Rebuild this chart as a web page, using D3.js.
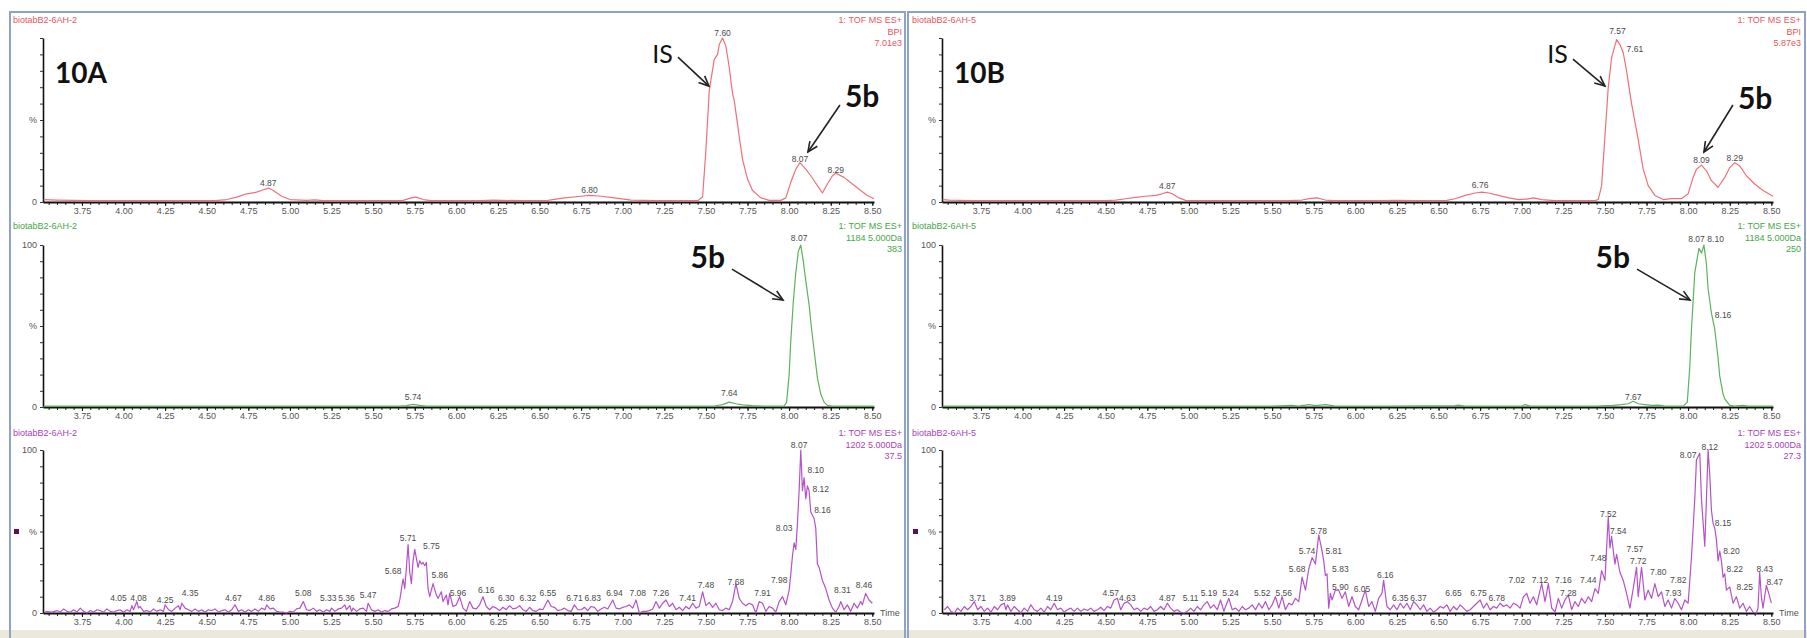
<!DOCTYPE html>
<html><head><meta charset="utf-8">
<script src="https://cdn.jsdelivr.net/npm/d3@7"></script>
<style>
html,body{margin:0;padding:0;background:#fff;}
svg{display:block;}
</style></head><body>
<svg id="chart" width="1807" height="638"></svg>
<script>
// ---------- DATA ----------
const tickValues = [3.75,4.00,4.25,4.50,4.75,5.00,5.25,5.50,5.75,6.00,6.25,6.50,6.75,7.00,7.25,7.50,7.75,8.00,8.25,8.50];
const tickLabels = ["3.75","4.00","4.25","4.50","4.75","5.00","5.25","5.50","5.75","6.00","6.25","6.50","6.75","7.00","7.25","7.50","7.75","8.00","8.25","8.50"];
const sampleNames = ["biotabB2-6AH-2","biotabB2-6AH-5"];
const panelTitles = ["10A","10B"];
const headerLinesA = [["1: TOF MS ES+","BPI","7.01e3"],["1: TOF MS ES+","1184 5.000Da","383"],["1: TOF MS ES+","1202 5.000Da","37.5"]];
const headerLinesB = [["1: TOF MS ES+","BPI","5.87e3"],["1: TOF MS ES+","1184 5.000Da","250"],["1: TOF MS ES+","1202 5.000Da","27.3"]];

// [time (min), relative intensity %]
const redA = [[3.52,1.5],[3.6,1.2],[3.7,1],[3.8,0.8],[4.0,0.8],[4.2,0.8],[4.4,0.8],[4.55,0.8],[4.62,1.5],[4.68,3],[4.74,5],[4.80,6],[4.84,7.5],[4.87,8.5],[4.90,7],[4.95,3.5],[5.0,1.5],[5.1,1],[5.15,1.3],[5.2,0.8],[5.5,0.8],[5.68,1],[5.73,2.5],[5.76,3],[5.8,1.5],[5.85,0.8],[6.15,0.8],[6.22,1.2],[6.28,1],[6.4,0.8],[6.55,1],[6.65,2.5],[6.75,3.5],[6.80,4],[6.87,3.5],[6.95,2.5],[7.05,1.2],[7.2,0.8],[7.45,0.8],[7.48,3],[7.50,32],[7.52,68],[7.55,87],[7.57,90],[7.58,96],[7.60,100],[7.62,95],[7.64,82],[7.66,66],[7.67,62],[7.70,40],[7.72,26],[7.75,14],[7.78,7],[7.83,2.5],[7.88,1],[7.95,1],[7.98,2.5],[8.01,12],[8.04,20],[8.065,24],[8.10,20],[8.13,16],[8.17,10],[8.20,5.5],[8.23,11],[8.26,16],[8.28,17.5],[8.33,15],[8.38,11],[8.43,7],[8.47,4],[8.51,2]];
const greenA = [[3.52,0.5],[3.9,0.6],[4.3,0.5],[4.8,0.6],[5.3,0.5],[5.66,0.6],[5.70,0.9],[5.74,1.6],[5.78,1],[5.82,0.5],[6.3,0.6],[6.9,0.5],[7.55,0.6],[7.60,1.5],[7.64,3],[7.68,2],[7.72,1.3],[7.78,0.8],[7.85,0.5],[7.97,0.5],[7.985,3],[8.00,20],[8.01,41],[8.025,65],[8.04,83],[8.055,96],[8.07,100],[8.085,90],[8.10,78],[8.12,63],[8.135,48],[8.15,35],[8.17,18],[8.19,8],[8.21,3],[8.23,1],[8.26,0.5],[8.51,0.5]];
const purpleA = [[3.53,1],[3.57,0.5],[3.60,1.5],[3.62,0.5],[3.64,2.5],[3.66,1],[3.68,0.5],[3.70,2],[3.72,0.5],[3.74,3],[3.76,1],[3.78,0],[3.80,1.5],[3.82,0.5],[3.84,2],[3.86,1.5],[3.88,0.5],[3.90,2.5],[3.92,1],[3.94,0.5],[3.96,1.5],[3.98,2],[4.00,0.5],[4.02,2],[4.04,1],[4.05,4.5],[4.06,2],[4.08,7],[4.09,3],[4.10,4],[4.12,1],[4.14,1.5],[4.16,0.5],[4.18,2.5],[4.20,1],[4.22,2],[4.24,1],[4.25,5],[4.27,2],[4.29,1],[4.31,3],[4.33,4.5],[4.34,2],[4.35,6],[4.37,3],[4.39,2],[4.41,1],[4.43,2.5],[4.45,1],[4.47,2],[4.49,0.5],[4.51,2],[4.53,1.5],[4.55,2.5],[4.57,0.5],[4.59,1.5],[4.61,2],[4.63,0.5],[4.65,2],[4.67,5],[4.69,1],[4.71,2],[4.73,0.5],[4.75,2],[4.77,1],[4.79,2.5],[4.81,1],[4.83,3],[4.85,2],[4.86,5],[4.88,2.5],[4.90,3],[4.92,1],[4.94,0.5],[4.96,0.5],[4.98,0],[5.00,1],[5.02,0.5],[5.04,2.5],[5.06,3],[5.08,7],[5.10,2],[5.12,1.5],[5.14,3],[5.16,1],[5.18,2],[5.20,0.5],[5.22,2],[5.24,1],[5.25,3],[5.27,1],[5.29,2.5],[5.31,3],[5.33,5],[5.34,2],[5.36,4.5],[5.37,1],[5.38,3],[5.40,1],[5.42,2.5],[5.44,3],[5.46,1],[5.47,6],[5.49,2],[5.51,1],[5.53,2],[5.55,0.5],[5.57,1.5],[5.59,1],[5.61,2.5],[5.63,3],[5.65,4],[5.66,8],[5.68,21],[5.69,15],[5.70,28],[5.71,42],[5.72,25],[5.73,18],[5.74,32],[5.75,39],[5.77,28],[5.78,32],[5.79,30],[5.80,31],[5.81,29],[5.82,31],[5.83,15],[5.84,10],[5.86,18],[5.88,11],[5.89,9],[5.91,13],[5.92,7],[5.94,11],[5.95,5],[5.96,12],[5.98,4],[6.00,5],[6.02,10],[6.04,3],[6.06,1],[6.08,7],[6.10,3],[6.12,2.5],[6.14,5],[6.16,10],[6.18,4],[6.20,2],[6.22,4],[6.24,3],[6.26,1.5],[6.28,3.5],[6.30,2],[6.32,4.5],[6.34,2.5],[6.36,3],[6.38,4.5],[6.40,2],[6.42,1],[6.44,3.5],[6.46,1.5],[6.48,1],[6.50,2.5],[6.52,2],[6.55,8],[6.57,4],[6.59,3.5],[6.61,1.5],[6.63,2],[6.65,3],[6.67,1.5],[6.69,1],[6.71,5],[6.73,2],[6.75,2],[6.77,3.5],[6.79,1.5],[6.81,4],[6.83,3.5],[6.85,1],[6.87,2.5],[6.89,3.5],[6.91,2.5],[6.94,8],[6.96,3],[6.98,2.5],[7.00,3.5],[7.02,4],[7.04,5],[7.06,3],[7.08,8],[7.10,0],[7.12,1],[7.14,1],[7.16,1.5],[7.18,2.5],[7.20,7],[7.22,3],[7.24,6],[7.26,8],[7.28,4],[7.30,6],[7.32,2],[7.34,3.5],[7.36,1.5],[7.38,4],[7.40,2.5],[7.42,6],[7.44,3],[7.46,4],[7.48,13],[7.50,4.5],[7.52,6.5],[7.54,3.5],[7.56,6],[7.58,2],[7.60,1.5],[7.62,3],[7.64,2],[7.66,7],[7.68,18],[7.70,9],[7.72,6],[7.74,4.5],[7.76,6],[7.78,5],[7.80,0],[7.82,7],[7.84,6],[7.86,1],[7.88,4],[7.90,3],[7.92,0.5],[7.94,7],[7.96,10],[7.98,5],[8.00,14],[8.01,24],[8.02,35],[8.03,43],[8.04,39],[8.05,55],[8.06,75],[8.07,100],[8.08,75],[8.09,83],[8.10,70],[8.11,78],[8.12,75],[8.13,62],[8.14,60],[8.15,58],[8.16,52],[8.17,30],[8.18,28],[8.20,20],[8.22,15],[8.24,8],[8.26,3],[8.28,0.5],[8.30,4],[8.31,7],[8.33,2],[8.35,5],[8.37,1],[8.39,6],[8.41,3],[8.43,7],[8.44,5],[8.46,12],[8.48,8],[8.50,6]];

const redB = [[3.52,1.5],[3.56,1.2],[3.62,1],[3.7,0.8],[4.0,0.8],[4.3,0.8],[4.50,0.8],[4.56,1.2],[4.62,2],[4.68,2.8],[4.74,3.5],[4.80,4],[4.84,5],[4.87,6],[4.90,5],[4.94,2.5],[4.98,1],[5.05,0.8],[5.6,0.8],[5.68,1.2],[5.73,2.2],[5.77,2.5],[5.82,1.2],[5.88,0.8],[6.15,0.8],[6.25,1],[6.35,0.8],[6.55,1],[6.60,2],[6.66,4],[6.72,5.5],[6.76,6],[6.80,5.5],[6.86,4],[6.92,2.5],[6.98,1.5],[7.03,1.8],[7.07,2.5],[7.12,1.5],[7.2,0.8],[7.44,0.8],[7.46,1.5],[7.48,10],[7.50,40],[7.52,70],[7.54,88],[7.57,99],[7.59,96],[7.61,91],[7.63,80],[7.66,60],[7.70,38],[7.73,20],[7.76,10],[7.80,4],[7.85,1.5],[7.90,2],[7.96,2],[8.00,5],[8.03,15],[8.05,20],[8.08,22.5],[8.11,19],[8.14,13],[8.18,9],[8.22,15],[8.25,21],[8.28,24],[8.31,22],[8.35,16],[8.40,11],[8.45,7],[8.51,3.5]];
const greenB = [[3.52,0.5],[3.8,0.6],[4.2,0.5],[4.6,0.6],[5.0,0.5],[5.5,0.6],[5.62,1],[5.66,0.5],[5.72,1.5],[5.76,0.8],[5.82,1.5],[5.88,0.5],[6.2,0.6],[6.6,0.8],[6.62,1.2],[6.66,0.5],[7.0,0.5],[7.02,1.5],[7.05,0.5],[7.45,0.5],[7.55,1],[7.60,1.5],[7.64,2],[7.67,3.5],[7.70,2],[7.74,1.5],[7.78,1],[7.82,1.2],[7.86,0.5],[7.97,0.5],[7.995,3],[8.01,25],[8.02,48],[8.04,83],[8.065,98],[8.08,95],[8.095,100],[8.11,88],[8.12,73],[8.14,58],[8.15,53],[8.16,48],[8.18,30],[8.19,19],[8.21,8],[8.22,5],[8.25,1],[8.28,0.5],[8.33,1],[8.36,0.5],[8.51,0.5]];
const purpleB = [[3.53,2],[3.55,4],[3.57,1],[3.59,0],[3.61,3],[3.63,1],[3.65,4],[3.67,2],[3.69,4],[3.71,7],[3.73,2],[3.75,4],[3.77,1],[3.79,3],[3.81,0.5],[3.83,4],[3.85,2],[3.87,5],[3.89,6],[3.90,2],[3.91,5],[3.93,1],[3.95,4],[3.97,2],[3.99,0],[4.01,3],[4.03,1],[4.05,5],[4.07,2],[4.09,1],[4.11,3],[4.13,0.5],[4.15,4],[4.17,2],[4.19,6],[4.21,2],[4.23,3],[4.25,0.5],[4.27,2],[4.29,3],[4.31,1],[4.33,3],[4.35,1],[4.37,2.5],[4.39,1.5],[4.41,3],[4.43,1],[4.45,2],[4.47,3.5],[4.49,1.5],[4.51,4],[4.53,3],[4.55,8],[4.57,9],[4.59,2],[4.61,6],[4.63,7],[4.65,5],[4.67,2],[4.69,3],[4.71,1],[4.73,3],[4.75,2],[4.77,4],[4.79,1],[4.81,2],[4.83,4],[4.85,2],[4.87,6],[4.89,3],[4.91,1],[4.93,2],[4.95,0.5],[4.97,0],[4.99,1],[5.01,3],[5.03,1],[5.05,4],[5.07,2],[5.09,5],[5.11,7],[5.13,3],[5.15,5],[5.17,2],[5.19,8],[5.21,1],[5.22,4],[5.24,9],[5.26,2],[5.28,3],[5.30,1],[5.32,4],[5.34,2],[5.36,3],[5.38,5],[5.40,2],[5.42,6],[5.44,3],[5.46,7],[5.48,2],[5.50,5],[5.52,10],[5.54,3],[5.56,10],[5.58,2],[5.60,6],[5.62,5],[5.64,9],[5.66,7],[5.68,22],[5.70,14],[5.72,27],[5.74,34],[5.76,30],[5.78,48],[5.80,38],[5.81,32],[5.82,23],[5.83,24],[5.84,3],[5.85,12],[5.86,8],[5.88,14],[5.90,14],[5.92,9],[5.94,13],[5.96,4],[5.98,10],[6.00,4],[6.02,2],[6.04,8],[6.06,14],[6.08,4],[6.10,7],[6.12,1],[6.14,9],[6.16,12],[6.17,20],[6.19,4],[6.21,2],[6.23,5],[6.25,2],[6.27,6],[6.29,3],[6.31,6],[6.33,2],[6.35,7],[6.37,5],[6.39,2],[6.41,5],[6.43,1],[6.45,3],[6.47,0.5],[6.49,2],[6.51,4],[6.53,3],[6.55,5],[6.57,1],[6.59,4],[6.61,2],[6.63,5],[6.65,3],[6.67,1],[6.69,2],[6.71,4],[6.73,6],[6.75,8],[6.77,3],[6.79,6],[6.81,2],[6.83,4],[6.85,3],[6.87,6],[6.89,4],[6.91,5],[6.93,3],[6.95,6],[6.97,5],[6.99,3],[7.01,10],[7.03,12],[7.05,6],[7.07,10],[7.09,5],[7.11,14],[7.12,18],[7.14,7],[7.16,18],[7.18,3],[7.20,0.5],[7.22,9],[7.24,3],[7.26,8],[7.28,11],[7.30,2],[7.32,7],[7.34,4],[7.36,9],[7.38,6],[7.40,10],[7.42,7],[7.44,15],[7.46,12],[7.48,26],[7.50,20],[7.52,59],[7.53,40],[7.54,47],[7.56,30],[7.57,36],[7.59,25],[7.61,20],[7.63,12],[7.65,3],[7.67,15],[7.69,28],[7.70,10],[7.72,28],[7.74,8],[7.76,14],[7.78,9],[7.80,18],[7.82,10],[7.84,13],[7.86,4],[7.88,8],[7.90,3],[7.92,9],[7.94,6],[7.96,2],[7.98,8],[8.00,6],[8.01,20],[8.02,34],[8.04,70],[8.05,94],[8.07,98],[8.08,70],[8.10,41],[8.11,70],[8.12,100],[8.13,85],[8.14,63],[8.15,55],[8.16,52],[8.17,45],[8.18,32],[8.19,38],[8.20,32],[8.21,22],[8.22,24],[8.23,14],[8.25,16],[8.27,6],[8.29,10],[8.31,3],[8.33,6],[8.35,1],[8.37,4],[8.39,0.5],[8.41,0],[8.42,3],[8.43,25],[8.44,10],[8.45,3],[8.47,17],[8.49,10],[8.50,6]];

// peak labels: [text, time, intensity of label centre]
const redALabels = [["4.87",4.87,11.5],["6.80",6.80,7.5],["7.60",7.60,103],["8.07",8.065,26],["8.29",8.28,19.5]];
const greenALabels = [["5.74",5.74,6],["7.64",7.64,8.6],["8.07",8.06,104]];
const purpleALabels = [["4.05",3.97,9],["4.08",4.09,9],["4.25",4.25,8],["4.35",4.40,12],["4.67",4.66,9],["4.86",4.86,9],["5.08",5.08,12],["5.33",5.23,9],["5.36",5.34,9],["5.47",5.47,11],["5.68",5.62,26],["5.71",5.71,46],["5.75",5.85,41],["5.86",5.90,23],["5.96",6.01,12],["6.16",6.18,14],["6.30",6.30,9],["6.32",6.43,9],["6.55",6.55,12],["6.71",6.71,9],["6.83",6.82,9],["6.94",6.95,12],["7.08",7.09,12],["7.26",7.23,12],["7.41",7.39,9],["7.48",7.50,17],["7.68",7.68,19],["7.91",7.84,12],["7.98",7.94,20],["8.03",7.97,52],["8.07",8.06,103],["8.10",8.16,88],["8.12",8.19,76],["8.16",8.20,63],["8.31",8.32,14],["8.46",8.45,17]];
const redBLabels = [["4.87",4.87,10],["6.76",6.75,10.5],["7.57",7.575,104],["7.61",7.68,93],["8.09",8.08,25.5],["8.29",8.28,27]];
const greenBLabels = [["7.67",7.67,6],["8.07",8.05,103.5],["8.10",8.165,103.5],["8.16",8.21,57]];
const purpleBLabels = [["3.71",3.73,9],["3.89",3.91,9],["4.19",4.19,9],["4.57",4.53,12.5],["4.63",4.63,9],["4.87",4.87,9],["5.11",5.01,9],["5.19",5.12,12],["5.24",5.25,12],["5.52",5.44,12],["5.56",5.57,12],["5.68",5.65,27],["5.74",5.71,38],["5.78",5.78,50],["5.81",5.87,38],["5.83",5.91,27],["5.90",5.91,16],["6.05",6.04,15],["6.16",6.18,23],["6.35",6.27,9],["6.37",6.38,9],["6.65",6.59,12],["6.75",6.74,12],["6.78",6.85,9],["7.02",6.97,20],["7.12",7.11,20],["7.16",7.25,20],["7.28",7.28,12],["7.44",7.40,20],["7.48",7.46,34],["7.52",7.52,61],["7.54",7.58,50],["7.57",7.68,39],["7.72",7.70,32],["7.80",7.82,25],["7.82",7.94,20],["7.93",7.91,12],["8.07",8.00,97],["8.12",8.13,102],["8.15",8.21,55],["8.20",8.26,38],["8.22",8.28,27],["8.25",8.34,16],["8.43",8.46,27],["8.47",8.52,19]];

// ---------- LAYOUT ----------
const svg = d3.select("#chart");
const FONT = "'Liberation Sans', Arial, sans-serif";
const BIG = "Lato, 'Open Sans', sans-serif";
const colors = {red:"#f0707a", green:"#5cb25c", purple:"#b452c8"};
const hdrColors = {red:"#ea5560", green:"#46a646", purple:"#a544b8"};
const rows = [
  {top:38, zero:202, show100:false, hdrY:23},
  {top:245, zero:407, show100:true, hdrY:229},
  {top:450, zero:613, show100:true, hdrY:436}
];
const sides = [
  {ox:0, series:[redA,greenA,purpleA], labels:[redALabels,greenALabels,purpleALabels], hdr:headerLinesA, name:sampleNames[0], title:panelTitles[0]},
  {ox:899, series:[redB,greenB,purpleB], labels:[redBLabels,greenBLabels,purpleBLabels], hdr:headerLinesB, name:sampleNames[1], title:panelTitles[1]}
];
const colorKeys = ["red","green","purple"];

// background band and frames
svg.append("rect").attr("x",0).attr("y",630).attr("width",1807).attr("height",8).attr("fill","#ece9dc");
const frameC = "#8fa3c6";
[[10,905],[908,1805]].forEach(([a,b])=>{
  svg.append("line").attr("x1",a).attr("x2",b).attr("y1",12).attr("y2",12).attr("stroke",frameC).attr("stroke-width",2);
  svg.append("line").attr("x1",a).attr("x2",a).attr("y1",11).attr("y2",638).attr("stroke",frameC).attr("stroke-width",2);
  svg.append("line").attr("x1",b).attr("x2",b).attr("y1",11).attr("y2",638).attr("stroke",frameC).attr("stroke-width",2);
});

const scales = [];
sides.forEach((s, si) => {
  const x = d3.scaleLinear().domain([3.516, 8.51]).range([43 + s.ox, 874 + s.ox]);
  const sideScales = [];
  rows.forEach((r, ri) => {
    const y = d3.scaleLinear().domain([0,100]).range([r.zero, r.top]);
    sideScales.push(y);
    const g = svg.append("g");
    const key = colorKeys[ri];
    // header texts
    g.append("text").attr("x", 13 + s.ox).attr("y", r.hdrY).text(s.name)
      .attr("font-family",FONT).attr("font-size",9).attr("fill",hdrColors[key]);
    s.hdr[ri].forEach((t, li) => {
      g.append("text").attr("x", 902 + s.ox).attr("y", r.hdrY + li*11.5).text(t)
        .attr("text-anchor","end").attr("font-family",FONT).attr("font-size",9).attr("fill",hdrColors[key]);
    });
    // minor x ticks
    const minor = d3.range(3.55, 8.52, 0.05).filter(v => v <= 8.51);
    const gm = g.append("g").attr("transform",`translate(0,${r.zero})`)
      .call(d3.axisBottom(x).tickValues(minor).tickFormat("").tickSize(3).tickSizeOuter(0));
    gm.select(".domain").remove();
    gm.selectAll("line").attr("stroke","#222");
    // major x axis
    const gx = g.append("g").attr("transform",`translate(0,${r.zero})`)
      .call(d3.axisBottom(x).tickValues(tickValues).tickFormat((d,i)=>tickLabels[i]).tickSize(4).tickSizeOuter(0));
    gx.select(".domain").attr("stroke","#111").attr("stroke-width",1.8);
    gx.selectAll("line").attr("stroke","#111");
    gx.selectAll("text").attr("font-family",FONT).attr("font-size",9).attr("fill","#555").attr("dy","0.55em");
    // y axis
    const gy = g.append("g").attr("transform",`translate(${43 + s.ox},0)`)
      .call(d3.axisLeft(y).tickValues(d3.range(0,101,10)).tickSize(3).tickSizeOuter(0)
        .tickFormat(d => d===0 ? "0" : (d===100 && r.show100) ? "100" : d===50 ? "%" : ""));
    gy.select(".domain").attr("stroke","#111").attr("stroke-width",1.6);
    gy.selectAll("line").attr("stroke","#333");
    gy.selectAll("text").attr("font-family",FONT).attr("font-size",9).attr("fill","#555");
    // trace
    const line = d3.line().x(d => x(d[0])).y(d => y(d[1]));
    g.append("path").datum(s.series[ri]).attr("d", line)
      .attr("fill","none").attr("stroke",colors[key]).attr("stroke-width",1.2).attr("stroke-linejoin","round");
    // peak labels
    g.selectAll("text.pk").data(s.labels[ri]).enter().append("text").attr("class","pk")
      .attr("x", d => x(d[1])).attr("y", d => y(d[2])).attr("dy","0.35em")
      .attr("text-anchor","middle").attr("font-family",FONT).attr("font-size",8.5).attr("fill","#4a4a4a")
      .text(d => d[0]);
    if (ri === 2) {
      g.append("text").attr("x", 880 + s.ox).attr("y", r.zero).attr("dy","0.35em").text("Time")
        .attr("font-family",FONT).attr("font-size",9).attr("fill","#555");
      g.append("rect").attr("x", 14 + s.ox).attr("y", 529).attr("width",5).attr("height",5).attr("fill","#5b105b");
    }
  });
  scales.push({x, ys: sideScales});
  // panel title
  svg.append("text").attr("x", 55 + s.ox).attr("y", 83).text(s.title)
    .attr("font-family",BIG).attr("font-weight","bold").attr("font-size",28).attr("fill","#111");
});

// annotations
function arrow(tx, ty, dx, dy) {
  const x1 = tx + dx, y1 = ty + dy;
  const ang = Math.atan2(ty - y1, tx - x1);
  const L = 11, a = 0.42;
  const g = svg.append("g").attr("stroke","#222").attr("stroke-width",1.6).attr("fill","none");
  g.append("line").attr("x1",x1).attr("y1",y1).attr("x2",tx).attr("y2",ty);
  g.append("polyline").attr("points", [
    [tx - L*Math.cos(ang - a), ty - L*Math.sin(ang - a)],
    [tx, ty],
    [tx - L*Math.cos(ang + a), ty - L*Math.sin(ang + a)]
  ].map(p => p.join(",")).join(" "));
  return [x1, y1];
}
function label(txt, xx, yy, anchor, bold, size) {
  svg.append("text").attr("x",xx).attr("y",yy).text(txt).attr("text-anchor",anchor)
    .attr("font-family",BIG).attr("font-weight",bold?"bold":"normal").attr("font-size",size).attr("fill","#111");
}
// 10A
{
  const {x, ys} = scales[0];
  let [a,b] = arrow(x(7.518), ys[0](70.7), -31, -29); label("IS", a-5, b+6, "end", false, 25);
  [a,b] = arrow(x(8.113), ys[0](30.5), 32, -47); label("5b", a+5, b+2, "start", true, 30);
  [a,b] = arrow(x(7.963), ys[1](66), -51, -31); label("5b", a-7, b-1, "end", true, 30);
}
// 10B
{
  const {x, ys} = scales[1];
  let [a,b] = arrow(x(7.50), ys[0](70.7), -32, -27); label("IS", a-5, b+4, "end", false, 25);
  [a,b] = arrow(x(8.095), ys[0](30.5), 29, -47); label("5b", a+5, b+4, "start", true, 30);
  [a,b] = arrow(x(8.011), ys[1](66), -53, -31); label("5b", a-7, b-1, "end", true, 30);
}
</script>
</body></html>
